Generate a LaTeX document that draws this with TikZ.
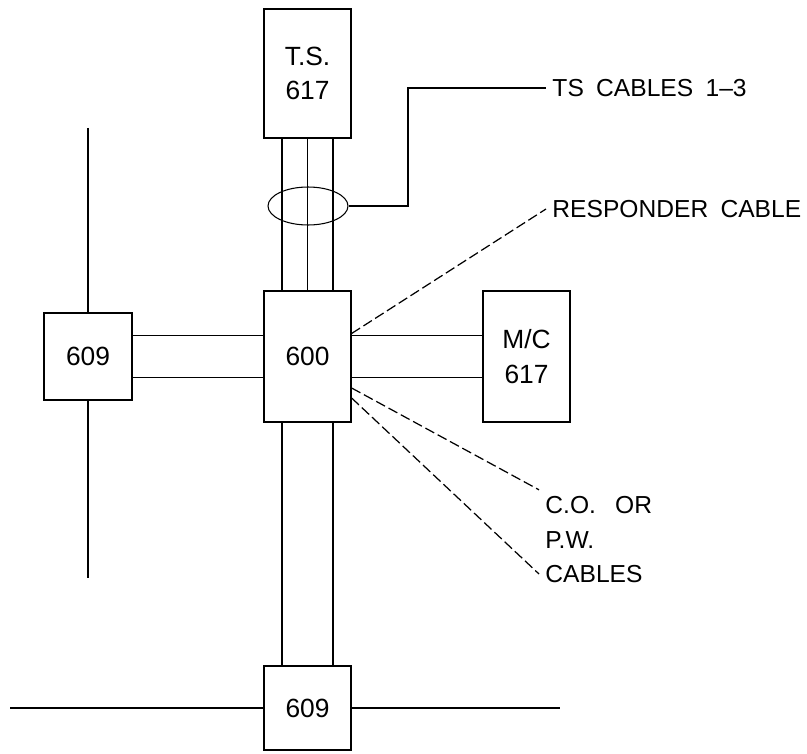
\documentclass[tikz,border=0pt]{standalone}
\usepackage{fontspec}
\setmainfont{Liberation Sans}
\usetikzlibrary{shapes.geometric}

\begin{document}
\begin{tikzpicture}[x=0.02cm, y=-0.02cm, line width=0.7pt,
    every node/.style={font=\fontsize{14}{19}\selectfont},
    box/.style={draw, rectangle, minimum width=1.74cm, align=center, font=\fontsize{15}{19.5}\selectfont},
    lead/.style={dash pattern=on 0.2cm off 0.08cm}]
    \useasboundingbox (0,0) rectangle (807,753);
    % boxes
    \node[box, minimum height=2.58cm] (ts) at (307.5,73.5) {T.S.\\617};
    \node[box, minimum height=2.62cm] (hub) at (307.5,356.5) {600};
    \node[box, minimum height=2.62cm] (mc) at (526.5,356.5) {M/C\\617};
    \node[box, minimum height=1.74cm, minimum width=1.76cm] (wa) at (88,356.5) {609};
    \node[box, minimum height=1.68cm] (wb) at (307.5,708) {609};
    \coordinate (watop) at (88,128); \coordinate (wabot) at (88,578);
    \coordinate (wbl) at (10,708); \coordinate (wbr) at (560,708);
    % cables
    \draw ([xshift=-0.51cm]ts.south) -- ([xshift=-0.51cm]hub.north);
    \draw (ts.south) -- (hub.north);
    \draw ([xshift=0.51cm]ts.south) -- ([xshift=0.51cm]hub.north);
    \draw ([xshift=-0.51cm]hub.south) -- ([xshift=-0.51cm]wb.north);
    \draw ([xshift=0.51cm]hub.south) -- ([xshift=0.51cm]wb.north);
    \draw ([yshift=0.42cm]hub.east) -- ([yshift=0.42cm]mc.west);
    \draw ([yshift=-0.42cm]hub.east) -- ([yshift=-0.42cm]mc.west);
    \draw ([yshift=0.42cm]hub.west) -- ([yshift=0.42cm]wa.east);
    \draw ([yshift=-0.42cm]hub.west) -- ([yshift=-0.42cm]wa.east);
    \draw (watop) -- (wa.north); \draw (wa.south) -- (wabot);
    \draw (wbl) -- (wb.west); \draw (wb.east) -- (wbr);
    % labels
    \node[draw, ellipse, minimum width=1.6cm, minimum height=0.76cm, line width=0.6pt] (bundle) at (308,206) {};
    \coordinate (bend) at (408,88);
    \node[anchor=west] (tslbl) at (546,88) {TS\enspace CABLES\enspace 1--3};
    \draw[line width=0.6pt] (bundle.east) -| (bend) -- (tslbl.west);
    \node[anchor=west] (resp) at (546,209) {RESPONDER\enspace CABLE};
    \node[anchor=west] (co1) at (539,505) {C.O.\enspace\ OR};
    \node[anchor=west] (co2) at (539,540) {P.W.};
    \node[anchor=west] (co3) at (539,574) {CABLES};
    \draw[lead] ([yshift=0.46cm]hub.east) -- (resp.west);
    \draw[lead] ([yshift=-0.63cm]hub.east) -- (co1.north west);
    \draw[lead] ([yshift=-0.83cm]hub.east) -- (co3.west);
\end{tikzpicture}
\end{document}
